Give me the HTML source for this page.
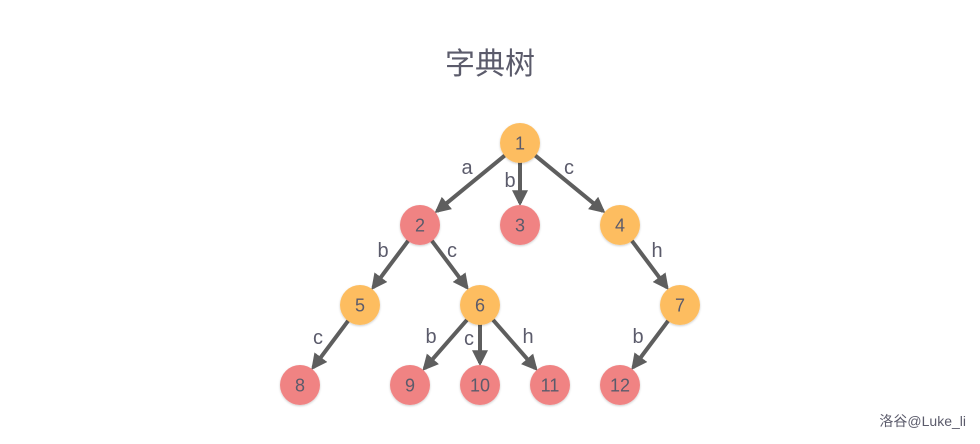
<!DOCTYPE html>
<html><head><meta charset="utf-8"><style>
body{margin:0;background:#fff;width:980px;height:444px;overflow:hidden}
svg{display:block}
text{font-family:"Liberation Sans","Noto Sans CJK SC",sans-serif;fill:#5b5b6b}
</style></head><body>
<svg id="s" width="980" height="444" xmlns="http://www.w3.org/2000/svg">
<defs><marker id="ar" markerWidth="4" markerHeight="4" refX="3.2" refY="2" orient="auto" markerUnits="strokeWidth"><path d="M0,0 L4,2 L0,4 Z" fill="#5e5e5e"/></marker>
<filter id="sh" x="-30%" y="-30%" width="160%" height="160%"><feDropShadow dx="0" dy="1" stdDeviation="1" flood-color="#000" flood-opacity="0.2"/></filter></defs>
<text x="490" y="74" font-size="30" text-anchor="middle">字典树</text>
<text x="966" y="426" font-size="14" text-anchor="end" fill="#666">洛谷@Luke_li</text>
<g id="e"></g><g id="n"></g>
<g font-size="20" text-anchor="middle">
<text x="467" y="174">a</text>
<text x="510" y="187">b</text>
<text x="569" y="174">c</text>
<text x="383" y="257">b</text>
<text x="452" y="257">c</text>
<text x="657" y="257">h</text>
<text x="318" y="344">c</text>
<text x="431" y="343">b</text>
<text x="469" y="345">c</text>
<text x="528" y="343">h</text>
<text x="638" y="343">b</text>
</g>
</svg>
<script>
var O="#fdbd60",R="#f08383";
var N={1:[520,143,O],2:[420,225,R],3:[520,225,R],4:[620,225,O],5:[360,305,O],6:[480,305,O],7:[680,305,O],8:[300,385,R],9:[410,385,R],10:[480,385,R],11:[550,385,R],12:[620,385,R]};
var E=[[1,2],[1,3],[1,4],[2,5],[2,6],[4,7],[5,8],[6,9],[6,10],[6,11],[7,12]];
var ns="http://www.w3.org/2000/svg",ge=document.getElementById("e"),gn=document.getElementById("n");
E.forEach(function(p){var a=N[p[0]],b=N[p[1]],dx=b[0]-a[0],dy=b[1]-a[1],L=Math.hypot(dx,dy),ux=dx/L,uy=dy/L;
var l=document.createElementNS(ns,"line");l.setAttribute("x1",a[0]+ux*19);l.setAttribute("y1",a[1]+uy*19);
l.setAttribute("x2",b[0]-ux*22);l.setAttribute("y2",b[1]-uy*22);l.setAttribute("stroke","#5e5e5e");l.setAttribute("stroke-width","4");l.setAttribute("marker-end","url(#ar)");ge.appendChild(l);});
for(var k in N){var c=document.createElementNS(ns,"circle"),v=N[k];c.setAttribute("cx",v[0]);c.setAttribute("cy",v[1]);c.setAttribute("r","20");c.setAttribute("fill",v[2]);c.setAttribute("filter","url(#sh)");gn.appendChild(c);
var t=document.createElementNS(ns,"text");t.setAttribute("x",v[0]);t.setAttribute("y",v[1]+6.5);t.setAttribute("font-size","18");t.setAttribute("text-anchor","middle");t.textContent=k;gn.appendChild(t);}
</script>
</body></html>
